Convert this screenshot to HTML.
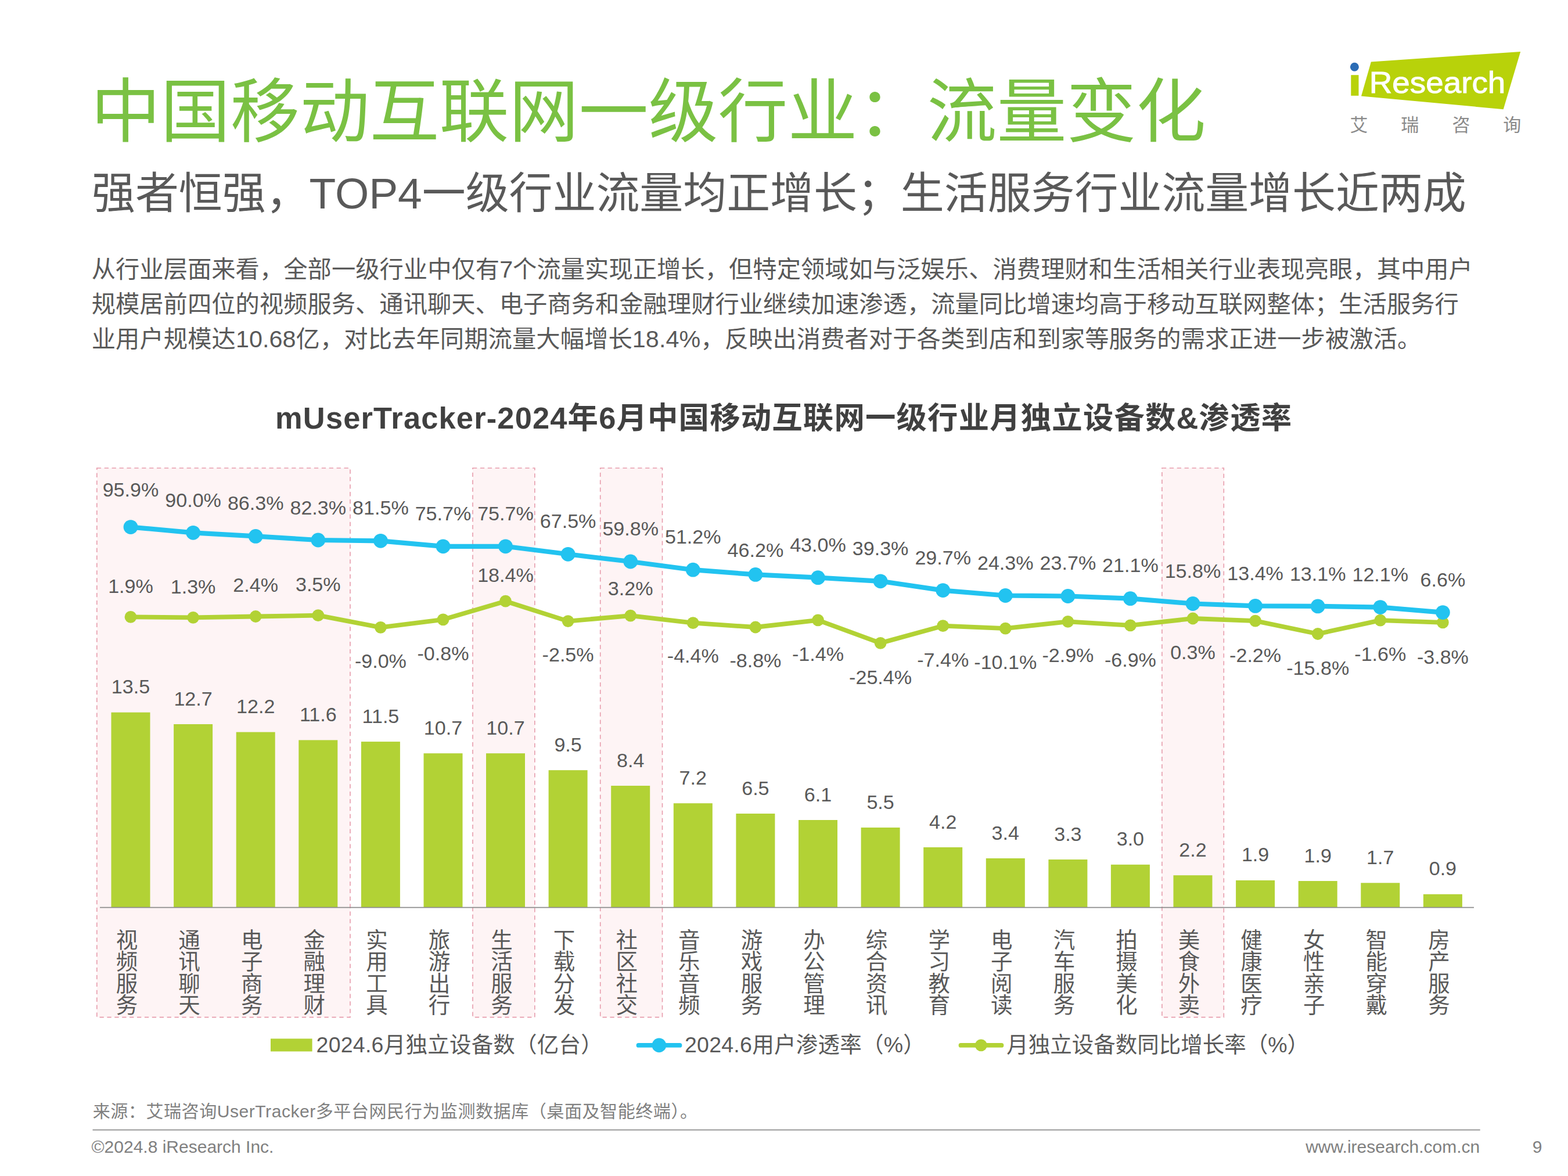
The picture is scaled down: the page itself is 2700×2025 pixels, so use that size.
<!DOCTYPE html>
<html lang="zh-CN"><head><meta charset="utf-8"><title>中国移动互联网一级行业：流量变化</title>
<style>
html,body{margin:0;padding:0;background:#fff}
body{width:2700px;height:2025px;position:relative;overflow:hidden;font-family:"Liberation Sans","Noto Sans CJK SC",sans-serif}
svg{position:absolute;left:0;top:0;display:block}
svg text{font-family:"Liberation Sans","Noto Sans CJK SC",sans-serif}
</style></head><body>
<svg width="2700" height="2025" viewBox="0 0 2700 2025">
<rect x="166.8" y="806" width="436.2" height="945.6" fill="#FEF4F5" stroke="#E79CAC" stroke-width="1.6" stroke-dasharray="7.3 5.6"/>
<rect x="814" y="806" width="106.8" height="945.6" fill="#FEF4F5" stroke="#E79CAC" stroke-width="1.6" stroke-dasharray="7.3 5.6"/>
<rect x="1033.7" y="806" width="106.8" height="945.6" fill="#FEF4F5" stroke="#E79CAC" stroke-width="1.6" stroke-dasharray="7.3 5.6"/>
<rect x="2000.9" y="806" width="106.4" height="945.6" fill="#FEF4F5" stroke="#E79CAC" stroke-width="1.6" stroke-dasharray="7.3 5.6"/>
<rect x="191.5" y="1226.7" width="67" height="335.9" fill="#B2D235"/>
<rect x="299.1" y="1247.0" width="67" height="315.6" fill="#B2D235"/>
<rect x="406.7" y="1260.6" width="67" height="302.0" fill="#B2D235"/>
<rect x="514.3" y="1274.4" width="67" height="288.2" fill="#B2D235"/>
<rect x="621.9" y="1277.1" width="67" height="285.5" fill="#B2D235"/>
<rect x="729.5" y="1297.2" width="67" height="265.4" fill="#B2D235"/>
<rect x="837.0" y="1297.2" width="67" height="265.4" fill="#B2D235"/>
<rect x="944.6" y="1326.2" width="67" height="236.4" fill="#B2D235"/>
<rect x="1052.2" y="1353.0" width="67" height="209.6" fill="#B2D235"/>
<rect x="1159.8" y="1383.2" width="67" height="179.4" fill="#B2D235"/>
<rect x="1267.4" y="1401.0" width="67" height="161.6" fill="#B2D235"/>
<rect x="1375.0" y="1412.0" width="67" height="150.6" fill="#B2D235"/>
<rect x="1482.6" y="1425.0" width="67" height="137.6" fill="#B2D235"/>
<rect x="1590.2" y="1459.0" width="67" height="103.6" fill="#B2D235"/>
<rect x="1697.8" y="1478.0" width="67" height="84.6" fill="#B2D235"/>
<rect x="1805.4" y="1480.0" width="67" height="82.6" fill="#B2D235"/>
<rect x="1912.9" y="1488.8" width="67" height="73.8" fill="#B2D235"/>
<rect x="2020.5" y="1507.2" width="67" height="55.4" fill="#B2D235"/>
<rect x="2128.1" y="1515.9" width="67" height="46.7" fill="#B2D235"/>
<rect x="2235.7" y="1517.0" width="67" height="45.6" fill="#B2D235"/>
<rect x="2343.3" y="1520.3" width="67" height="42.3" fill="#B2D235"/>
<rect x="2450.9" y="1539.8" width="67" height="22.8" fill="#B2D235"/>
<line x1="172" y1="1562.6" x2="2538" y2="1562.6" stroke="#8C8C8C" stroke-width="1.6"/>
<polyline points="225.0,1062.4 332.6,1063.4 440.2,1061.5 547.8,1059.7 655.4,1080.3 763.0,1066.8 870.5,1035.2 978.1,1069.6 1085.7,1060.2 1193.3,1072.7 1300.9,1080.0 1408.5,1067.8 1516.1,1107.3 1623.7,1077.7 1731.3,1082.1 1838.9,1070.3 1946.4,1076.9 2054.0,1065.0 2161.6,1069.1 2269.2,1091.5 2376.8,1068.1 2484.4,1071.8" fill="none" stroke="#B2D235" stroke-width="7.8" stroke-linejoin="round" stroke-linecap="round"/>
<g fill="#B2D235"><circle cx="225.0" cy="1062.4" r="10.4"/><circle cx="332.6" cy="1063.4" r="10.4"/><circle cx="440.2" cy="1061.5" r="10.4"/><circle cx="547.8" cy="1059.7" r="10.4"/><circle cx="655.4" cy="1080.3" r="10.4"/><circle cx="763.0" cy="1066.8" r="10.4"/><circle cx="870.5" cy="1035.2" r="10.4"/><circle cx="978.1" cy="1069.6" r="10.4"/><circle cx="1085.7" cy="1060.2" r="10.4"/><circle cx="1193.3" cy="1072.7" r="10.4"/><circle cx="1300.9" cy="1080.0" r="10.4"/><circle cx="1408.5" cy="1067.8" r="10.4"/><circle cx="1516.1" cy="1107.3" r="10.4"/><circle cx="1623.7" cy="1077.7" r="10.4"/><circle cx="1731.3" cy="1082.1" r="10.4"/><circle cx="1838.9" cy="1070.3" r="10.4"/><circle cx="1946.4" cy="1076.9" r="10.4"/><circle cx="2054.0" cy="1065.0" r="10.4"/><circle cx="2161.6" cy="1069.1" r="10.4"/><circle cx="2269.2" cy="1091.5" r="10.4"/><circle cx="2376.8" cy="1068.1" r="10.4"/><circle cx="2484.4" cy="1071.8" r="10.4"/></g>
<polyline points="225.0,907.6 332.6,917.3 440.2,923.4 547.8,930.0 655.4,931.3 763.0,940.8 870.5,940.8 978.1,954.3 1085.7,967.0 1193.3,981.2 1300.9,989.4 1408.5,994.7 1516.1,1000.8 1623.7,1016.6 1731.3,1025.5 1838.9,1026.5 1946.4,1030.7 2054.0,1039.5 2161.6,1043.4 2269.2,1043.9 2376.8,1045.6 2484.4,1054.6" fill="none" stroke="#22C3F0" stroke-width="8.2" stroke-linejoin="round" stroke-linecap="round"/>
<g fill="#22C3F0"><circle cx="225.0" cy="907.6" r="12.4"/><circle cx="332.6" cy="917.3" r="12.4"/><circle cx="440.2" cy="923.4" r="12.4"/><circle cx="547.8" cy="930.0" r="12.4"/><circle cx="655.4" cy="931.3" r="12.4"/><circle cx="763.0" cy="940.8" r="12.4"/><circle cx="870.5" cy="940.8" r="12.4"/><circle cx="978.1" cy="954.3" r="12.4"/><circle cx="1085.7" cy="967.0" r="12.4"/><circle cx="1193.3" cy="981.2" r="12.4"/><circle cx="1300.9" cy="989.4" r="12.4"/><circle cx="1408.5" cy="994.7" r="12.4"/><circle cx="1516.1" cy="1000.8" r="12.4"/><circle cx="1623.7" cy="1016.6" r="12.4"/><circle cx="1731.3" cy="1025.5" r="12.4"/><circle cx="1838.9" cy="1026.5" r="12.4"/><circle cx="1946.4" cy="1030.7" r="12.4"/><circle cx="2054.0" cy="1039.5" r="12.4"/><circle cx="2161.6" cy="1043.4" r="12.4"/><circle cx="2269.2" cy="1043.9" r="12.4"/><circle cx="2376.8" cy="1045.6" r="12.4"/><circle cx="2484.4" cy="1054.6" r="12.4"/></g>
<text x="225.0" y="855.2" font-size="34.1" text-anchor="middle" fill="#595959" font-weight="400">95.9%</text>
<text x="225.0" y="1020.7" font-size="34.1" text-anchor="middle" fill="#595959" font-weight="400">1.9%</text>
<text x="225.0" y="1194.2" font-size="34.1" text-anchor="middle" fill="#595959" font-weight="400">13.5</text>
<text x="332.6" y="873.2" font-size="34.1" text-anchor="middle" fill="#595959" font-weight="400">90.0%</text>
<text x="332.6" y="1022.1" font-size="34.1" text-anchor="middle" fill="#595959" font-weight="400">1.3%</text>
<text x="332.6" y="1214.5" font-size="34.1" text-anchor="middle" fill="#595959" font-weight="400">12.7</text>
<text x="440.2" y="878.2" font-size="34.1" text-anchor="middle" fill="#595959" font-weight="400">86.3%</text>
<text x="440.2" y="1019.2" font-size="34.1" text-anchor="middle" fill="#595959" font-weight="400">2.4%</text>
<text x="440.2" y="1228.1" font-size="34.1" text-anchor="middle" fill="#595959" font-weight="400">12.2</text>
<text x="547.8" y="885.5" font-size="34.1" text-anchor="middle" fill="#595959" font-weight="400">82.3%</text>
<text x="547.8" y="1017.7" font-size="34.1" text-anchor="middle" fill="#595959" font-weight="400">3.5%</text>
<text x="547.8" y="1241.9" font-size="34.1" text-anchor="middle" fill="#595959" font-weight="400">11.6</text>
<text x="655.4" y="886.1" font-size="34.1" text-anchor="middle" fill="#595959" font-weight="400">81.5%</text>
<text x="655.4" y="1150.0" font-size="34.1" text-anchor="middle" fill="#595959" font-weight="400">-9.0%</text>
<text x="655.4" y="1244.6" font-size="34.1" text-anchor="middle" fill="#595959" font-weight="400">11.5</text>
<text x="763.0" y="895.8" font-size="34.1" text-anchor="middle" fill="#595959" font-weight="400">75.7%</text>
<text x="763.0" y="1137.0" font-size="34.1" text-anchor="middle" fill="#595959" font-weight="400">-0.8%</text>
<text x="763.0" y="1264.7" font-size="34.1" text-anchor="middle" fill="#595959" font-weight="400">10.7</text>
<text x="870.5" y="895.8" font-size="34.1" text-anchor="middle" fill="#595959" font-weight="400">75.7%</text>
<text x="870.5" y="1002.2" font-size="34.1" text-anchor="middle" fill="#595959" font-weight="400">18.4%</text>
<text x="870.5" y="1264.7" font-size="34.1" text-anchor="middle" fill="#595959" font-weight="400">10.7</text>
<text x="978.1" y="909.0" font-size="34.1" text-anchor="middle" fill="#595959" font-weight="400">67.5%</text>
<text x="978.1" y="1139.1" font-size="34.1" text-anchor="middle" fill="#595959" font-weight="400">-2.5%</text>
<text x="978.1" y="1293.7" font-size="34.1" text-anchor="middle" fill="#595959" font-weight="400">9.5</text>
<text x="1085.7" y="922.2" font-size="34.1" text-anchor="middle" fill="#595959" font-weight="400">59.8%</text>
<text x="1085.7" y="1025.1" font-size="34.1" text-anchor="middle" fill="#595959" font-weight="400">3.2%</text>
<text x="1085.7" y="1320.5" font-size="34.1" text-anchor="middle" fill="#595959" font-weight="400">8.4</text>
<text x="1193.3" y="935.5" font-size="34.1" text-anchor="middle" fill="#595959" font-weight="400">51.2%</text>
<text x="1193.3" y="1141.2" font-size="34.1" text-anchor="middle" fill="#595959" font-weight="400">-4.4%</text>
<text x="1193.3" y="1350.7" font-size="34.1" text-anchor="middle" fill="#595959" font-weight="400">7.2</text>
<text x="1300.9" y="959.0" font-size="34.1" text-anchor="middle" fill="#595959" font-weight="400">46.2%</text>
<text x="1300.9" y="1149.1" font-size="34.1" text-anchor="middle" fill="#595959" font-weight="400">-8.8%</text>
<text x="1300.9" y="1368.5" font-size="34.1" text-anchor="middle" fill="#595959" font-weight="400">6.5</text>
<text x="1408.5" y="950.2" font-size="34.1" text-anchor="middle" fill="#595959" font-weight="400">43.0%</text>
<text x="1408.5" y="1138.2" font-size="34.1" text-anchor="middle" fill="#595959" font-weight="400">-1.4%</text>
<text x="1408.5" y="1379.5" font-size="34.1" text-anchor="middle" fill="#595959" font-weight="400">6.1</text>
<text x="1516.1" y="956.0" font-size="34.1" text-anchor="middle" fill="#595959" font-weight="400">39.3%</text>
<text x="1516.1" y="1177.9" font-size="34.1" text-anchor="middle" fill="#595959" font-weight="400">-25.4%</text>
<text x="1516.1" y="1392.5" font-size="34.1" text-anchor="middle" fill="#595959" font-weight="400">5.5</text>
<text x="1623.7" y="972.2" font-size="34.1" text-anchor="middle" fill="#595959" font-weight="400">29.7%</text>
<text x="1623.7" y="1147.9" font-size="34.1" text-anchor="middle" fill="#595959" font-weight="400">-7.4%</text>
<text x="1623.7" y="1426.5" font-size="34.1" text-anchor="middle" fill="#595959" font-weight="400">4.2</text>
<text x="1731.3" y="981.0" font-size="34.1" text-anchor="middle" fill="#595959" font-weight="400">24.3%</text>
<text x="1731.3" y="1152.0" font-size="34.1" text-anchor="middle" fill="#595959" font-weight="400">-10.1%</text>
<text x="1731.3" y="1445.5" font-size="34.1" text-anchor="middle" fill="#595959" font-weight="400">3.4</text>
<text x="1838.9" y="981.0" font-size="34.1" text-anchor="middle" fill="#595959" font-weight="400">23.7%</text>
<text x="1838.9" y="1139.7" font-size="34.1" text-anchor="middle" fill="#595959" font-weight="400">-2.9%</text>
<text x="1838.9" y="1447.5" font-size="34.1" text-anchor="middle" fill="#595959" font-weight="400">3.3</text>
<text x="1946.4" y="985.4" font-size="34.1" text-anchor="middle" fill="#595959" font-weight="400">21.1%</text>
<text x="1946.4" y="1147.6" font-size="34.1" text-anchor="middle" fill="#595959" font-weight="400">-6.9%</text>
<text x="1946.4" y="1456.3" font-size="34.1" text-anchor="middle" fill="#595959" font-weight="400">3.0</text>
<text x="2054.0" y="994.8" font-size="34.1" text-anchor="middle" fill="#595959" font-weight="400">15.8%</text>
<text x="2054.0" y="1135.3" font-size="34.1" text-anchor="middle" fill="#595959" font-weight="400">0.3%</text>
<text x="2054.0" y="1474.7" font-size="34.1" text-anchor="middle" fill="#595959" font-weight="400">2.2</text>
<text x="2161.6" y="999.2" font-size="34.1" text-anchor="middle" fill="#595959" font-weight="400">13.4%</text>
<text x="2161.6" y="1139.7" font-size="34.1" text-anchor="middle" fill="#595959" font-weight="400">-2.2%</text>
<text x="2161.6" y="1483.4" font-size="34.1" text-anchor="middle" fill="#595959" font-weight="400">1.9</text>
<text x="2269.2" y="1000.1" font-size="34.1" text-anchor="middle" fill="#595959" font-weight="400">13.1%</text>
<text x="2269.2" y="1161.7" font-size="34.1" text-anchor="middle" fill="#595959" font-weight="400">-15.8%</text>
<text x="2269.2" y="1484.5" font-size="34.1" text-anchor="middle" fill="#595959" font-weight="400">1.9</text>
<text x="2376.8" y="1000.7" font-size="34.1" text-anchor="middle" fill="#595959" font-weight="400">12.1%</text>
<text x="2376.8" y="1138.2" font-size="34.1" text-anchor="middle" fill="#595959" font-weight="400">-1.6%</text>
<text x="2376.8" y="1487.8" font-size="34.1" text-anchor="middle" fill="#595959" font-weight="400">1.7</text>
<text x="2484.4" y="1009.8" font-size="34.1" text-anchor="middle" fill="#595959" font-weight="400">6.6%</text>
<text x="2484.4" y="1142.6" font-size="34.1" text-anchor="middle" fill="#595959" font-weight="400">-3.8%</text>
<text x="2484.4" y="1507.3" font-size="34.1" text-anchor="middle" fill="#595959" font-weight="400">0.9</text>
<g fill="#595959" font-size="37.5" text-anchor="middle">
<text><tspan x="218.5" y="1631.6">视</tspan><tspan x="218.5" y="1669.1">频</tspan><tspan x="218.5" y="1706.6">服</tspan><tspan x="218.5" y="1744.1">务</tspan></text>
<text><tspan x="326.1" y="1631.6">通</tspan><tspan x="326.1" y="1669.1">讯</tspan><tspan x="326.1" y="1706.6">聊</tspan><tspan x="326.1" y="1744.1">天</tspan></text>
<text><tspan x="433.7" y="1631.6">电</tspan><tspan x="433.7" y="1669.1">子</tspan><tspan x="433.7" y="1706.6">商</tspan><tspan x="433.7" y="1744.1">务</tspan></text>
<text><tspan x="541.3" y="1631.6">金</tspan><tspan x="541.3" y="1669.1">融</tspan><tspan x="541.3" y="1706.6">理</tspan><tspan x="541.3" y="1744.1">财</tspan></text>
<text><tspan x="648.9" y="1631.6">实</tspan><tspan x="648.9" y="1669.1">用</tspan><tspan x="648.9" y="1706.6">工</tspan><tspan x="648.9" y="1744.1">具</tspan></text>
<text><tspan x="756.5" y="1631.6">旅</tspan><tspan x="756.5" y="1669.1">游</tspan><tspan x="756.5" y="1706.6">出</tspan><tspan x="756.5" y="1744.1">行</tspan></text>
<text><tspan x="864.0" y="1631.6">生</tspan><tspan x="864.0" y="1669.1">活</tspan><tspan x="864.0" y="1706.6">服</tspan><tspan x="864.0" y="1744.1">务</tspan></text>
<text><tspan x="971.6" y="1631.6">下</tspan><tspan x="971.6" y="1669.1">载</tspan><tspan x="971.6" y="1706.6">分</tspan><tspan x="971.6" y="1744.1">发</tspan></text>
<text><tspan x="1079.2" y="1631.6">社</tspan><tspan x="1079.2" y="1669.1">区</tspan><tspan x="1079.2" y="1706.6">社</tspan><tspan x="1079.2" y="1744.1">交</tspan></text>
<text><tspan x="1186.8" y="1631.6">音</tspan><tspan x="1186.8" y="1669.1">乐</tspan><tspan x="1186.8" y="1706.6">音</tspan><tspan x="1186.8" y="1744.1">频</tspan></text>
<text><tspan x="1294.4" y="1631.6">游</tspan><tspan x="1294.4" y="1669.1">戏</tspan><tspan x="1294.4" y="1706.6">服</tspan><tspan x="1294.4" y="1744.1">务</tspan></text>
<text><tspan x="1402.0" y="1631.6">办</tspan><tspan x="1402.0" y="1669.1">公</tspan><tspan x="1402.0" y="1706.6">管</tspan><tspan x="1402.0" y="1744.1">理</tspan></text>
<text><tspan x="1509.6" y="1631.6">综</tspan><tspan x="1509.6" y="1669.1">合</tspan><tspan x="1509.6" y="1706.6">资</tspan><tspan x="1509.6" y="1744.1">讯</tspan></text>
<text><tspan x="1617.2" y="1631.6">学</tspan><tspan x="1617.2" y="1669.1">习</tspan><tspan x="1617.2" y="1706.6">教</tspan><tspan x="1617.2" y="1744.1">育</tspan></text>
<text><tspan x="1724.8" y="1631.6">电</tspan><tspan x="1724.8" y="1669.1">子</tspan><tspan x="1724.8" y="1706.6">阅</tspan><tspan x="1724.8" y="1744.1">读</tspan></text>
<text><tspan x="1832.4" y="1631.6">汽</tspan><tspan x="1832.4" y="1669.1">车</tspan><tspan x="1832.4" y="1706.6">服</tspan><tspan x="1832.4" y="1744.1">务</tspan></text>
<text><tspan x="1939.9" y="1631.6">拍</tspan><tspan x="1939.9" y="1669.1">摄</tspan><tspan x="1939.9" y="1706.6">美</tspan><tspan x="1939.9" y="1744.1">化</tspan></text>
<text><tspan x="2047.5" y="1631.6">美</tspan><tspan x="2047.5" y="1669.1">食</tspan><tspan x="2047.5" y="1706.6">外</tspan><tspan x="2047.5" y="1744.1">卖</tspan></text>
<text><tspan x="2155.1" y="1631.6">健</tspan><tspan x="2155.1" y="1669.1">康</tspan><tspan x="2155.1" y="1706.6">医</tspan><tspan x="2155.1" y="1744.1">疗</tspan></text>
<text><tspan x="2262.7" y="1631.6">女</tspan><tspan x="2262.7" y="1669.1">性</tspan><tspan x="2262.7" y="1706.6">亲</tspan><tspan x="2262.7" y="1744.1">子</tspan></text>
<text><tspan x="2370.3" y="1631.6">智</tspan><tspan x="2370.3" y="1669.1">能</tspan><tspan x="2370.3" y="1706.6">穿</tspan><tspan x="2370.3" y="1744.1">戴</tspan></text>
<text><tspan x="2477.9" y="1631.6">房</tspan><tspan x="2477.9" y="1669.1">产</tspan><tspan x="2477.9" y="1706.6">服</tspan><tspan x="2477.9" y="1744.1">务</tspan></text>
</g>
<rect x="466" y="1788.5" width="71.6" height="22" fill="#B2D235"/>
<text x="544.6" y="1811.8" font-size="37.5" fill="#595959" textLength="493.2" lengthAdjust="spacing">2024.6月独立设备数（亿台）</text>
<line x1="1099.5" y1="1799.9" x2="1170.5" y2="1799.9" stroke="#22C3F0" stroke-width="7.8" stroke-linecap="round"/><circle cx="1134.9" cy="1799.9" r="12.3" fill="#22C3F0"/>
<text x="1178.9" y="1811.8" font-size="37.5" fill="#595959" textLength="413.9" lengthAdjust="spacing">2024.6用户渗透率（%）</text>
<line x1="1654.5" y1="1799.9" x2="1724.5" y2="1799.9" stroke="#B2D235" stroke-width="7.8" stroke-linecap="round"/><circle cx="1689.3" cy="1799.9" r="10.4" fill="#B2D235"/>
<text x="1733.3" y="1811.8" font-size="37.5" fill="#595959" textLength="520.7" lengthAdjust="spacing">月独立设备数同比增长率（%）</text>
<text x="156.5" y="235" font-size="120" fill="#7AC143">中国移动互联网一级行业：流量变化</text>
<text x="158" y="358.8" font-size="75" fill="#595959" textLength="2366.8" lengthAdjust="spacing">强者恒强，TOP4一级行业流量均正增长；生活服务行业流量增长近两成</text>
<text x="157.7" y="478.3" font-size="41.3" fill="#595959" textLength="2378.2" lengthAdjust="spacing">从行业层面来看，全部一级行业中仅有7个流量实现正增长，但特定领域如与泛娱乐、消费理财和生活相关行业表现亮眼，其中用户</text>
<text x="157.7" y="538" font-size="41.3" fill="#595959" textLength="2354.1" lengthAdjust="spacing">规模居前四位的视频服务、通讯聊天、电子商务和金融理财行业继续加速渗透，流量同比增速均高于移动互联网整体；生活服务行</text>
<text x="157.7" y="597.7" font-size="41.3" fill="#595959" textLength="2289.7" lengthAdjust="spacing">业用户规模达10.68亿，对比去年同期流量大幅增长18.4%，反映出消费者对于各类到店和到家等服务的需求正进一步被激活。</text>
<text x="474.1" y="737.8" font-size="52.4" font-weight="700" fill="#404040" textLength="1750" lengthAdjust="spacing">mUserTracker-2024年6月中国移动互联网一级行业月独立设备数&amp;渗透率</text>
<text x="159.7" y="1924.4" font-size="30.07" fill="#808080" textLength="1041.3" lengthAdjust="spacing">来源：艾瑞咨询UserTracker多平台网民行为监测数据库（桌面及智能终端）。</text>
<line x1="159.5" y1="1945.6" x2="2548.7" y2="1945.6" stroke="#8C8C8C" stroke-width="1.6"/>
<text x="157.5" y="1984.5" font-size="30" text-anchor="start" fill="#808080" font-weight="400">©2024.8 iResearch Inc.</text>
<text x="2548.3" y="1984.5" font-size="30" text-anchor="end" fill="#808080" font-weight="400">www.iresearch.com.cn</text>
<text x="2647.2" y="1984.5" font-size="30" text-anchor="middle" fill="#808080" font-weight="400">9</text>
<polygon points="2360.9,106.4 2618.2,88.9 2588.7,188.2 2344,165.4" fill="#B8D20A"/>
<rect x="2326.3" y="129.2" width="13.2" height="35.6" fill="#B8D20A"/><circle cx="2332.4" cy="115.3" r="7.5" fill="#2B6CB5"/>
<text x="2357.8" y="159.7" font-size="52.3" text-anchor="start" fill="#fff" font-weight="400" stroke="#fff" stroke-width="0.9" textLength="234.5" lengthAdjust="spacingAndGlyphs">Research</text>
<text x="2324.5 2412.3 2500.4 2588.3" y="226.3" font-size="31" fill="#8A8A8A">艾瑞咨询</text>
</svg>
</body></html>
